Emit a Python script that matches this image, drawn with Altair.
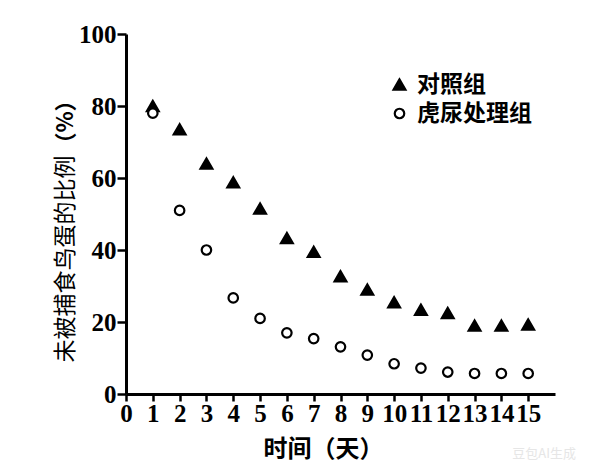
import altair as alt
import pandas as pd

days = list(range(1, 16))
control = [80, 73.5, 64, 58.8, 51.5, 43.3, 39.5, 32.7, 29, 25.5, 23.4, 22.5, 19, 19, 19.3]
urine = [78, 51, 40, 26.7, 21, 17, 15.4, 13.1, 10.8, 8.4, 7.2, 6.1, 5.7, 5.7, 5.7]
groups = ["对照组", "虎尿处理组"]
x_ticks = list(range(0, 16))
y_ticks = [0, 20, 40, 60, 80, 100]
y_title_main = "未被捕食鸟蛋的比例"
y_title_unit = "（%）"

df = pd.DataFrame({
    "day": days * 2,
    "val": control + urine,
    "group": [groups[0]] * len(days) + [groups[1]] * len(days),
})

pts = alt.Chart(df).mark_point(filled=True, stroke="black", strokeWidth=2.2, opacity=1).encode(
    x=alt.X("day:Q", scale=alt.Scale(domain=[0, 16], nice=False),
            axis=alt.Axis(values=x_ticks, title="时间（天）", tickSize=7, labelPadding=0,
                          labelAngle=0, labelOverlap=False, labelFlush=False, labelBound=False,
                          titleFontWeight="bold", titleFontSize=24, titlePadding=11,
                          titleX=197)),
    y=alt.Y("val:Q", scale=alt.Scale(domain=[0, 100], nice=False),
            axis=alt.Axis(values=y_ticks, title=None, tickSize=9, labelPadding=1)),
    shape=alt.Shape("group:N", scale=alt.Scale(domain=groups, range=["triangle-up", "circle"]),
                    legend=alt.Legend(title=None, orient="none", legendX=262, legendY=39,
                                      labelFont="Noto Sans CJK SC", labelFontSize=23,
                                      labelFontWeight="bold", labelColor="black",
                                      symbolStrokeColor="black", symbolStrokeWidth=2.2,
                                      rowPadding=5, labelOffset=6)),
    fill=alt.Fill("group:N", scale=alt.Scale(domain=groups, range=["black", "white"])),
    size=alt.Size("group:N", scale=alt.Scale(domain=groups, range=[140, 90])),
)

ytitle_main = alt.Chart(pd.DataFrame({"t": [y_title_main]})).mark_text(
    font="Noto Sans CJK SC", fontSize=23, fontWeight="normal", color="black",
    angle=270, align="center", baseline="middle"
).encode(text="t:N", x=alt.value(-60), y=alt.value(225))

ytitle_unit = alt.Chart(pd.DataFrame({"t": [y_title_unit]})).mark_text(
    font="Noto Sans CJK SC", fontSize=22, fontWeight="bold", color="black",
    angle=270, align="center", baseline="middle"
).encode(text="t:N", x=alt.value(-60), y=alt.value(88))

wm = alt.Chart(pd.DataFrame({"t": ["豆包AI生成"]})).mark_text(
    font="Noto Sans CJK SC", fontSize=13, color="#e6e6e6", align="right", baseline="middle"
).encode(text="t:N", x=alt.value(450), y=alt.value(420))

chart = alt.layer(pts, ytitle_main, ytitle_unit, wm).properties(
    width=429, height=360,
    autosize=alt.AutoSizeParams(type="none"),
    padding={"left": 118, "top": 26, "right": 34, "bottom": 70},
).configure_view(stroke=None).configure_axis(
    domainColor="black", domainWidth=3, tickColor="black", tickWidth=2.5, grid=False,
    labelFont="Liberation Serif", labelFontWeight="bold", labelFontSize=25, labelColor="black",
    titleFont="Noto Sans CJK SC", titleColor="black",
).configure_axisY(labelBaseline="middle")

chart.save("out.html", embed_options={"renderer": "svg", "actions": False})
